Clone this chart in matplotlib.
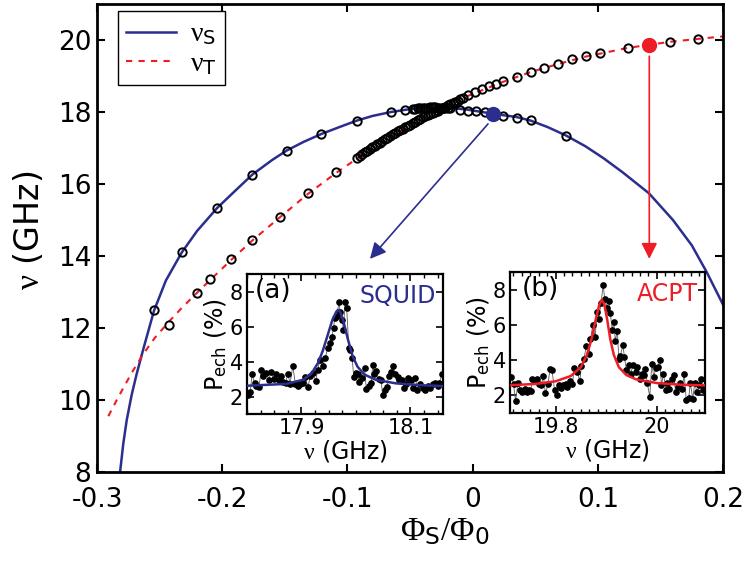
import matplotlib
matplotlib.use('Agg')
import matplotlib.pyplot as plt
from matplotlib.ticker import MultipleLocator, FixedLocator

plt.rcParams['font.family'] = ['DejaVu Sans']
plt.rcParams['mathtext.fontset'] = 'custom'
plt.rcParams['mathtext.rm'] = 'Liberation Serif'
plt.rcParams['mathtext.it'] = 'Liberation Serif:italic'
plt.rcParams['mathtext.sf'] = 'DejaVu Sans'
plt.rcParams['axes.unicode_minus'] = False

BLUE = '#2B2E8F'
RED = '#EE1D25'

# ---------------- main panel data ----------------
nuS_fit_x = [-0.2816, -0.2790, -0.2763, -0.2723, -0.2683, -0.263, -0.2545, -0.245, -0.2323, -0.22,
             -0.2039, -0.19, -0.176, -0.16, -0.1485, -0.135, -0.1208, -0.105, -0.0926, -0.08,
             -0.0652, -0.05, -0.035, -0.02, -0.005, 0.0165, 0.0352, 0.0464, 0.06, 0.0744,
             0.09, 0.1044, 0.12, 0.1409, 0.16, 0.175, 0.187, 0.2]
nuS_fit_y = [8.0, 8.80, 9.44, 10.15, 10.73, 11.42, 12.48, 13.32, 14.10, 14.70,
             15.34, 15.80, 16.26, 16.67, 16.93, 17.17, 17.39, 17.60, 17.76, 17.89,
             18.0, 18.08, 18.12, 18.12, 18.07, 17.95, 17.86, 17.76, 17.58, 17.35,
             17.05, 16.72, 16.32, 15.74, 15.0, 14.3, 13.55, 12.65]

nuT_fit_x = [-0.291, -0.285, -0.278, -0.271, -0.263, -0.254, -0.2425, -0.232, -0.2204, -0.2097,
             -0.1932, -0.176, -0.1538, -0.1317, -0.1094, -0.0926, -0.066, -0.0394, -0.026,
             -0.0035, 0.0245, 0.0464, 0.068, 0.0906, 0.1239, 0.1577, 0.180, 0.2]
nuT_fit_y = [9.55, 9.95, 10.40, 10.83, 11.28, 11.72, 12.18, 12.57, 12.97, 13.33,
             13.88, 14.43, 15.08, 15.72, 16.30, 16.70, 17.30, 17.84, 18.07,
             18.45, 18.84, 19.11, 19.33, 19.54, 19.78, 19.95, 20.03, 20.10]

nuS_data_x = [-0.2545, -0.2323, -0.2039, -0.176, -0.1485, -0.1208, -0.0926, -0.0652, -0.054,
              -0.048, -0.046, -0.044, -0.042, -0.040, -0.038, -0.036, -0.034, -0.032, -0.030,
              -0.028, -0.026, -0.024, -0.022, -0.020, -0.018,
              -0.010, -0.0034, 0.003, 0.0102, 0.0245, 0.0352, 0.0464, 0.0744]
nuS_data_y = [12.51, 14.10, 15.32, 16.26, 16.93, 17.39, 17.76, 18.0, 18.05,
              18.08, 18.09, 18.10, 18.11, 18.11, 18.12, 18.12, 18.13, 18.13, 18.13,
              18.12, 18.12, 18.12, 18.11, 18.11, 18.10,
              18.06, 18.04, 18.02, 18.0, 17.90, 17.84, 17.77, 17.33]

nuT_data_x = [-0.2425, -0.2204, -0.2100, -0.1932, -0.176, -0.1538, -0.1317, -0.1094, -0.0926,
              -0.090, -0.088, -0.086, -0.084, -0.082, -0.080, -0.078, -0.076, -0.074, -0.072,
              -0.070, -0.068, -0.066, -0.064, -0.062, -0.060, -0.058, -0.056, -0.054, -0.052,
              -0.050, -0.048, -0.046, -0.044, -0.042, -0.040, -0.038, -0.036, -0.034, -0.032,
              -0.030, -0.028, -0.026, -0.024, -0.022, -0.020, -0.018, -0.016, -0.014, -0.012,
              -0.010, -0.008, -0.0035, 0.0018, 0.0073, 0.0131, 0.0187, 0.0245, 0.0352, 0.0464,
              0.0573, 0.068, 0.0794, 0.0906, 0.1018, 0.1239, 0.1577, 0.180]
nuT_data_y = [12.09, 12.97, 13.35, 13.91, 14.45, 15.09, 15.76, 16.34, 16.73,
              16.79, 16.84, 16.88, 16.93, 16.97, 17.02, 17.06, 17.11, 17.15, 17.20,
              17.25, 17.29, 17.34, 17.38, 17.42, 17.46, 17.50, 17.53, 17.57, 17.61,
              17.65, 17.69, 17.73, 17.77, 17.81, 17.85, 17.88, 17.92, 17.95, 17.98,
              18.01, 18.04, 18.07, 18.11, 18.15, 18.19, 18.22, 18.25, 18.28, 18.31,
              18.35, 18.39, 18.47, 18.55, 18.63, 18.72, 18.78, 18.86, 18.97, 19.11,
              19.21, 19.33, 19.46, 19.55, 19.64, 19.78, 19.95, 20.03]

sel_S = (0.0165, 17.95)
sel_T = (0.1411, 19.87)
arrow_S = ((0.0123, 17.67), (-0.082, 13.92))
arrow_T = ((0.1411, 19.55), (0.1411, 13.92))

# ---------------- inset (a): SQUID ----------------
a_nu = [17.802, 17.806, 17.809, 17.814, 17.817, 17.822, 17.826, 17.830, 17.835, 17.840,
        17.844, 17.849, 17.854, 17.858, 17.863, 17.866, 17.871, 17.875, 17.879, 17.884,
        17.889, 17.893, 17.898, 17.902, 17.907, 17.912, 17.916, 17.921, 17.926, 17.930,
        17.934, 17.939, 17.944, 17.948, 17.953, 17.956, 17.959, 17.961, 17.965, 17.969,
        17.971, 17.975, 17.977, 17.980, 17.983, 17.987, 17.990, 17.993, 17.996, 18.000,
        18.003, 18.006, 18.011, 18.016, 18.019, 18.024, 18.028, 18.031, 18.034, 18.037,
        18.042, 18.046, 18.049, 18.053, 18.057, 18.060, 18.065, 18.068, 18.072, 18.077,
        18.080, 18.085, 18.089, 18.092, 18.096, 18.101, 18.104, 18.109, 18.113, 18.118,
        18.123, 18.127, 18.132, 18.136, 18.141, 18.146, 18.150, 18.153, 18.158]
a_P = [2.06, 2.25, 3.26, 2.78, 2.63, 2.53, 3.54, 3.20, 3.35, 2.97,
       3.39, 3.01, 3.26, 2.93, 3.16, 2.82, 2.78, 3.31, 2.74, 3.73,
       2.69, 2.63, 2.74, 2.78, 3.12, 2.53, 3.16, 3.35, 2.88, 3.54,
       4.11, 3.77, 4.21, 4.78, 5.07, 5.41, 5.93, 6.50, 6.63, 7.41,
       6.82, 6.36, 5.79, 7.41, 7.07, 4.78, 4.65, 4.21, 3.12, 3.35,
       3.26, 2.82, 3.07, 3.64, 2.44, 2.59, 2.78, 3.83, 3.26, 3.45,
       3.01, 2.97, 2.11, 2.40, 2.55, 3.20, 3.39, 3.77, 3.26, 3.12,
       2.93, 2.97, 2.50, 2.69, 3.07, 2.97, 2.50, 3.07, 2.40, 2.69,
       2.50, 2.40, 2.59, 2.50, 2.72, 2.78, 2.59, 2.78, 3.26]
a_fit_nu = [17.802, 17.872, 17.902, 17.918, 17.930, 17.939, 17.948, 17.957, 17.964, 17.967,
            17.971, 17.977, 17.985, 17.994, 18.003, 18.016, 18.037, 18.074, 18.117, 18.158]
a_fit_P = [2.62, 2.72, 2.95, 3.30, 3.90, 4.60, 5.50, 6.40, 6.85, 6.95,
           6.85, 6.30, 5.30, 4.30, 3.70, 3.25, 2.95, 2.75, 2.65, 2.60]

# ---------------- inset (b): ACPT ----------------
b_nu = [19.713, 19.717, 19.721, 19.726, 19.730, 19.734, 19.739, 19.743, 19.747, 19.751,
        19.754, 19.759, 19.763, 19.767, 19.772, 19.776, 19.780, 19.785, 19.789, 19.793,
        19.798, 19.802, 19.807, 19.811, 19.815, 19.820, 19.823, 19.828, 19.833, 19.837,
        19.843, 19.848, 19.851, 19.856, 19.861, 19.866, 19.869, 19.874, 19.878, 19.882,
        19.885, 19.890, 19.894, 19.897, 19.902, 19.905, 19.908, 19.912, 19.915, 19.918,
        19.922, 19.925, 19.928, 19.933, 19.936, 19.940, 19.945, 19.948, 19.953, 19.958,
        19.961, 19.966, 19.971, 19.974, 19.977, 19.981, 19.986, 19.990, 19.994, 19.998,
        20.002, 20.006, 20.009, 20.013, 20.018, 20.021, 20.025, 20.029, 20.033, 20.037,
        20.041, 20.045, 20.050, 20.054, 20.058, 20.063, 20.066, 20.071, 20.075, 20.079,
        20.084, 20.088, 20.092, 20.096]
b_P = [3.05, 2.67, 1.68, 2.73, 2.30, 2.21, 2.39, 2.17, 2.30, 2.24,
       2.91, 2.86, 2.91, 2.67, 2.58, 3.10, 2.11, 2.62, 3.51, 3.42,
       2.30, 2.02, 2.58, 2.43, 2.58, 2.67, 2.49, 2.80, 2.62, 3.55,
       3.33, 2.80, 3.67, 4.08, 4.82, 4.36, 5.20, 6.02, 5.29, 6.73,
       6.32, 7.25, 8.28, 7.48, 6.97, 7.35, 6.69, 5.72, 6.17, 5.10,
       5.66, 4.08, 4.23, 4.86, 4.17, 3.42, 3.74, 3.23, 3.70, 3.33,
       3.61, 2.95, 3.23, 3.14, 3.51, 2.73, 1.93, 3.79, 3.05, 3.55,
       3.61, 3.98, 2.58, 3.23, 2.30, 2.73, 2.39, 2.91, 3.14, 2.21,
       2.49, 2.71, 2.39, 3.23, 1.74, 1.83, 2.71, 1.79, 2.73, 2.17,
       2.58, 2.91, 2.30, 2.45]
b_fit_nu = [19.713, 19.760, 19.800, 19.830, 19.850, 19.862, 19.872, 19.880, 19.886, 19.891,
            19.896, 19.902, 19.908, 19.915, 19.925, 19.940, 19.960, 20.000, 20.050, 20.096]
b_fit_P = [2.58, 2.65, 2.80, 3.10, 3.60, 4.30, 5.30, 6.40, 7.10, 7.42,
           7.20, 6.30, 5.20, 4.30, 3.60, 3.15, 2.90, 2.70, 2.60, 2.57]

main_xticks = [-0.3, -0.2, -0.1, 0.0, 0.1, 0.2]
main_xticklabels = ['-0.3', '-0.2', '-0.1', '0', '0.1', '0.2']
main_yticks = [8, 10, 12, 14, 16, 18, 20]
a_xticks = [17.9, 18.1]
a_xticklabels = ['17.9', '18.1']
b_xticks = [19.8, 20.0]
b_xticklabels = ['19.8', '20']
inset_yticks = [2, 4, 6, 8]

# ---------------- figure ----------------
fig = plt.figure(figsize=(7.47, 5.62), dpi=100)
ax = fig.add_axes([0.1299, 0.1601, 0.838, 0.8328])

ax.plot(nuS_fit_x, nuS_fit_y, color=BLUE, lw=1.8, label=r'$\mathrm{\nu}_{\mathsf{S}}$', zorder=2)
ax.plot(nuT_fit_x, nuT_fit_y, color=RED, lw=1.5, ls=(0, (3, 3)),
        label=r'$\mathrm{\nu}_{\mathsf{T}}$', zorder=2)
ax.plot(nuS_data_x, nuS_data_y, 'o', mfc='none', mec='black', ms=6, mew=1.4, zorder=3)
ax.plot(nuT_data_x, nuT_data_y, 'o', mfc='none', mec='black', ms=6, mew=1.4, zorder=3)
ax.plot([sel_S[0]], [sel_S[1]], 'o', color=BLUE, ms=10, zorder=4)
ax.plot([sel_T[0]], [sel_T[1]], 'o', color=RED, ms=10, zorder=4)

for (start, end), col in ((arrow_S, BLUE), (arrow_T, RED)):
    ax.annotate('', xy=end, xytext=start,
                arrowprops=dict(arrowstyle='-|>,head_length=0.8,head_width=0.4',
                                color=col, lw=1.2, shrinkA=0, shrinkB=0,
                                mutation_scale=12), zorder=4)

ax.set_xlim(-0.3, 0.2)
ax.set_ylim(8, 21)
ax.xaxis.set_major_locator(FixedLocator(main_xticks))
ax.set_xticklabels(main_xticklabels)
ax.set_yticks(main_yticks)
ax.tick_params(direction='in', length=6, width=1.5, top=True, right=True, labelsize=19)
ax.tick_params(axis='x', pad=11)
ax.tick_params(axis='y', pad=4)
for s in ax.spines.values():
    s.set_linewidth(2.0)

ax.set_xlabel(r'$\mathrm{\Phi}_{\mathsf{S}}/\mathrm{\Phi}_{\mathsf{0}}$', fontsize=24)
ax.xaxis.set_label_coords(0.556, -0.09)
ax.set_ylabel(r'$\mathrm{\nu}$ (GHz)', fontsize=24)
ax.yaxis.set_label_coords(-0.081, 0.517)

leg = ax.legend(loc='upper left', bbox_to_anchor=(0.0335, 0.985), borderaxespad=0,
                fontsize=20, handlelength=1.8, fancybox=False, framealpha=1,
                edgecolor='black', borderpad=0.3, labelspacing=0.05, handletextpad=0.5)
leg.get_frame().set_linewidth(1.0)


def make_inset(rect, nu, P, fit_nu, fit_P, col, xlim, xticks, xticklabels, minor,
               tag, name, tagx, namey):
    ai = fig.add_axes(rect)
    ai.plot(nu, P, '-', color='0.35', lw=0.6, marker='o', ms=3.8,
            mfc='black', mec='black', zorder=2)
    ai.plot(fit_nu, fit_P, '-', color=col, lw=1.8, zorder=3)
    ai.set_xlim(*xlim)
    ai.set_ylim(1, 9)
    ai.xaxis.set_major_locator(FixedLocator(xticks))
    ai.set_xticklabels(xticklabels)
    ai.xaxis.set_minor_locator(MultipleLocator(minor))
    ai.set_yticks(inset_yticks)
    ai.tick_params(direction='in', which='both', top=True, right=True, labelsize=15, pad=3)
    ai.tick_params(which='major', length=5, width=1.2)
    ai.tick_params(which='minor', length=3, width=1.0)
    for s in ai.spines.values():
        s.set_linewidth(1.6)
    ai.set_xlabel(r'$\mathrm{\nu}$ (GHz)', fontsize=17, labelpad=0)
    ai.set_ylabel(r'P$_{\mathsf{ech}}$ (%)', fontsize=17, labelpad=1)
    ai.text(tagx, 0.97, tag, transform=ai.transAxes, ha='left', va='top', fontsize=19)
    ai.text(0.965, namey, name, transform=ai.transAxes, ha='right', va='top',
            fontsize=17, color=col)
    return ai


make_inset([0.3307, 0.2633, 0.2624, 0.2491], a_nu, a_P, a_fit_nu, a_fit_P, BLUE,
           (17.80, 18.16), a_xticks, a_xticklabels, 0.025, '(a)', 'SQUID', 0.04, 0.93)
make_inset([0.6827, 0.2651, 0.2610, 0.2509], b_nu, b_P, b_fit_nu, b_fit_P, RED,
           (19.71, 20.095), b_xticks, b_xticklabels, 0.2 / 12, '(b)', 'ACPT', 0.06, 0.93)

fig.savefig('out.png', dpi=100)
